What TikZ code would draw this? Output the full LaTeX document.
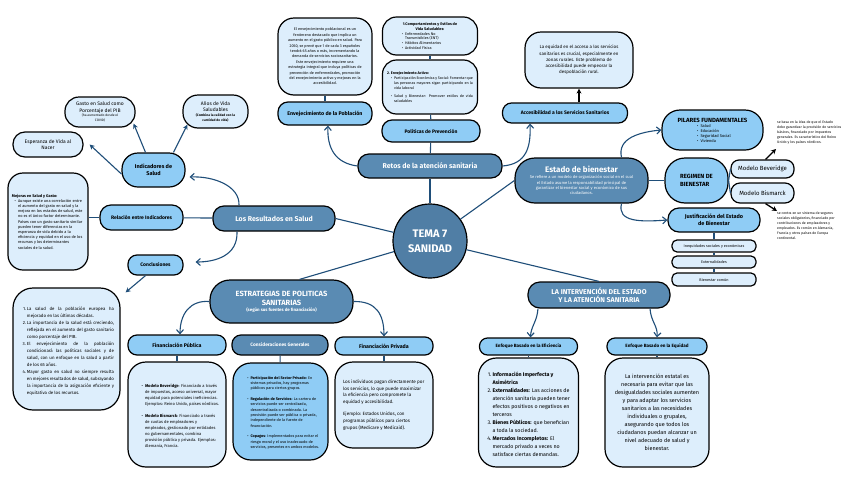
\documentclass[tikz,border=0pt]{standalone}
\usepackage{fontspec}
\setmainfont{Fira Sans}
\usepackage{enumitem}
\usetikzlibrary{arrows.meta}
\newcommand{\fsz}[2]{\fontsize{#1}{#2}\selectfont}
\hyphenpenalty=10000
\exhyphenpenalty=10000
\tolerance=9999
\emergencystretch=4pt
\setlist[itemize]{label=\textbullet,leftmargin=7pt,labelsep=2pt,itemsep=0pt,topsep=0pt,parsep=0pt,partopsep=0pt}
\setlist[enumerate]{label=\arabic*.,leftmargin=8pt,labelsep=1pt,itemsep=0pt,topsep=0pt,parsep=0pt,partopsep=0pt}
\definecolor{lightb}{RGB}{221,238,252}
\definecolor{skyb}{RGB}{143,204,245}
\definecolor{darkb}{RGB}{90,139,179}
\definecolor{temab}{RGB}{80,126,165}
\definecolor{linec}{RGB}{31,78,121}
\tikzset{
 base/.style={draw=black, line width=1.2pt, align=flush center, inner sep=1pt, text=black},
 lbox/.style={base, fill=lightb, rounded corners=10pt},
 sbox/.style={base, fill=skyb, rounded corners=8pt},
 dbox/.style={base, fill=darkb, text=white, rounded corners=10pt},
 link/.style={draw=linec, line width=1.1pt},
 sarr/.style={link, -{Stealth[length=5pt,width=5pt]}},
 carr/.style={link, -{Straight Barb[length=4pt,width=7pt]}},
 karr/.style={draw=black, line width=1.3pt, -{Stealth[length=5pt,width=5pt]}},
}
\begin{document}
\begin{tikzpicture}[x=1pt,y=-1pt]
\fill[white] (0,0) rectangle (848,477);
\useasboundingbox (0,0) rectangle (848,477);

% ---------- centre ----------
\node[circle, draw=black, line width=1.2pt, fill=temab, minimum size=74pt, inner sep=0pt, text=white, font=\bfseries\fsz{11}{15}, align=center] (tema) at (430,241) {TEMA 7\\SANIDAD};

% ---------- top: retos ----------
\node[dbox, rounded corners=11pt, minimum width=144pt, minimum height=24pt, font=\bfseries\fsz{7}{9}] (retos) at (430,166) {Retos de la atención sanitaria};
\node[sbox, rounded corners=10pt, minimum width=98pt, minimum height=22pt, font=\bfseries\fsz{5}{6}] (polit) at (431,131) {Políticas de Prevención};
\node[lbox, rounded corners=14pt, minimum width=95pt, minimum height=54pt, text width=86pt, align=justify, font=\fsz{3.7}{5}] (envact) at (430,87)
 {\textbf{2. Envejecimiento Activo:}
 \begin{itemize}[itemsep=3pt]
 \item Participación Económica y Social: Fomentar que las personas mayores sigan participando en la vida laboral
 \item Salud y Bienestar: Promover estilos de vida saludables
 \end{itemize}};
\node[lbox, rounded corners=14pt, minimum width=95pt, minimum height=38pt, text width=82pt, align=flush left, font=\fsz{3.8}{4.7}] (comp) at (430,36)
 {{\centering\bfseries 1.Comportamientos y Estilos de\\Vida Saludables:\par}
 \begin{itemize}[leftmargin=16pt]
 \item Enfermedades No\\Transmisibles (ENT)
 \item Hábitos Alimentarios
 \item Actividad Física
 \end{itemize}};
\node[lbox, rounded corners=16pt, minimum width=94pt, minimum height=77pt, text width=74pt, font=\fsz{3.8}{5.4}] (envtxt) at (325,56.5)
 {El envejecimiento poblacional es un fenómeno destacado que implica un aumento en el gasto público en salud. Para 2050, se prevé que 1 de cada 3 españoles tendrá 65 años o más, incrementando la demanda de servicios sociosanitarios. Este envejecimiento requiere una estrategia integral que incluya políticas de prevención de enfermedades, promoción del envejecimiento activo y mejoras en la accesibilidad.};
\node[sbox, rounded corners=10pt, minimum width=94pt, minimum height=23pt, font=\bfseries\fsz{5.3}{6.5}] (envpob) at (325,113.5) {Envejecimiento de la Población};
\node[sbox, rounded corners=9pt, minimum width=125pt, minimum height=20pt, font=\bfseries\fsz{5}{6}] (acc) at (565,113) {Accesibilidad a los Servicios Sanitarios};
\node[lbox, rounded corners=16pt, minimum width=108pt, minimum height=56pt, text width=90pt, font=\fsz{4.5}{6.2}] (equi) at (579,60)
 {La equidad en el acceso a los servicios sanitarios es crucial, especialmente en zonas rurales. Este problema de accesibilidad puede empeorar la despoblación rural.};

\draw[link] (tema) -- (retos);
\draw[link] (retos) -- (polit);
\draw[link] (polit) -- (envact);
\draw[link] (envact) -- (comp);
\draw[link] (envtxt) -- (envpob);
\draw[carr] (retos.west) .. controls (335,163) and (327,148) .. ([xshift=3pt]envpob.south);
\draw[carr] (retos.east) .. controls (526,164) and (531,148) .. ([xshift=-35pt]acc.south);
\draw[karr] (acc.north -| equi.south) -- (equi.south);

% ---------- right: estado de bienestar ----------
\node[dbox, rounded corners=20pt, minimum width=133pt, minimum height=45pt, text width=120pt] (estado) at (581.5,180.5)
 {{\bfseries\fsz{8}{10}Estado de bienestar\par}\vspace{1pt}{\fsz{4.1}{5.3}Se refiere a un modelo de organización social en el cual\\el Estado asume la responsabilidad principal de\\garantizar el bienestar social y económico de sus\\ciudadanos.\par}};
\node[sbox, rounded corners=18pt, minimum width=101pt, minimum height=40pt, text width=88pt, align=flush left, font=\fsz{4}{5}] (pilares) at (712.5,130)
 {{\centering\bfseries\fsz{6}{7.5}PILARES FUNDAMENTALES\par}
 \begin{itemize}[leftmargin=32pt]
 \item Salud
 \item Educación
 \item Seguridad Social
 \item Vivienda
 \end{itemize}};
\node[sbox, rounded corners=20pt, minimum width=63pt, minimum height=45pt, align=left, font=\bfseries\fsz{6}{8}] (regimen) at (696.5,180.5) {REGIMEN DE\\BIENESTAR};
\node[lbox, rounded corners=8pt, minimum width=63pt, minimum height=18pt, font=\fsz{6}{7}] (bev) at (762.5,169) {Modelo Beveridge};
\node[lbox, rounded corners=9pt, minimum width=63pt, minimum height=20pt, font=\fsz{6}{7}] (bis) at (762.5,193) {Modelo Bismarck};
\node[anchor=north west, text width=64pt, align=flush left, inner sep=0pt, font=\fsz{3.5}{4.9}] (bevtxt) at (777,121)
 {se basa en la idea de que el Estado debe garantizar la provisión de servicios básicos, financiado por impuestos generales. Es característico del Reino Unido y los países nórdicos.};
\node[anchor=north west, text width=66pt, align=flush left, inner sep=0pt, font=\fsz{3.5}{4.9}] (bistxt) at (777,212)
 {se centra en un sistema de seguros sociales obligatorios, financiado por contribuciones de empleadores y empleados. Es común en Alemania, Francia y otros países de Europa continental.};
\node[sbox, rounded corners=11pt, minimum width=92pt, minimum height=24pt, font=\bfseries\fsz{5.5}{7}] (justif) at (714,220) {Justificación del Estado\\de Bienestar};
\node[lbox, rounded corners=5pt, minimum width=84pt, minimum height=12pt, font=\fsz{3.8}{4.5}] (ineq) at (714,246) {Inequidades sociales y económicas};
\node[lbox, rounded corners=5pt, minimum width=84pt, minimum height=12pt, font=\fsz{3.8}{4.5}] (ext) at (714,262) {Externalidades};
\node[lbox, rounded corners=5pt, minimum width=84pt, minimum height=13pt, font=\fsz{3.8}{4.5}] (bien) at (714,279.5) {Bienestar común};
\coordinate (bevend) at (776,149);
\coordinate (bisend) at (777,211);

\draw[link] (tema) -- (estado.west);
\draw[link] (estado.east) -- (regimen.west);
\draw[link] (regimen.east) -- (bev.west);
\draw[link] (regimen.east) -- (bis.west);
\draw[carr] ([xshift=40pt]estado.north) .. controls (617,138) and (640,132) .. (pilares.west);
\draw[carr] ([xshift=40pt]estado.south) .. controls (617,222) and (640,222) .. (justif.west);
\draw[karr] ([xshift=3pt]bev.north) -- (bevend);
\draw[karr] ([xshift=3pt]bis.south) -- (bisend);
\draw[link] (justif) -- (ineq);
\draw[link] (ineq) -- (ext);
\draw[link] (ext) -- (bien);

% ---------- bottom right: intervención ----------
\node[dbox, rounded corners=12pt, minimum width=142pt, minimum height=26pt, font=\bfseries\fsz{7}{8.5}] (interv) at (599,295) {LA INTERVENCIÓN DEL ESTADO\\Y LA ATENCIÓN SANITARIA};
\node[sbox, rounded corners=8pt, minimum width=98pt, minimum height=17pt, font=\bfseries\fsz{4.6}{5.5}] (eficH) at (528.5,346.5) {Enfoque Basado en la Eficiencia};
\node[sbox, rounded corners=8pt, minimum width=100pt, minimum height=17pt, font=\bfseries\fsz{4.6}{5.5}] (equH) at (657,346.5) {Enfoque Basado en la Equidad};
\node[lbox, rounded corners=18pt, minimum width=100pt, minimum height=109pt, text width=88pt, align=flush left, font=\fsz{5.3}{8}] (eficT) at (528.5,412.5)
 {\begin{enumerate}
 \item \textbf{Información Imperfecta y Asimétrica}
 \item \textbf{Externalidades:} Las acciones de atención sanitaria pueden tener efectos positivos o negativos en terceros
 \item \textbf{Bienes Públicos:} que benefician a toda la sociedad.
 \item \textbf{Mercados Incompletos:} El mercado privado a veces no satisface ciertas demandas.
 \end{enumerate}};
\node[lbox, rounded corners=18pt, minimum width=104pt, minimum height=109pt, text width=88pt, font=\fsz{5.5}{8}] (equT) at (657,412.5)
 {La intervención estatal es necesaria para evitar que las desigualdades sociales aumenten y para adaptar los servicios sanitarios a las necesidades individuales o grupales, asegurando que todos los ciudadanos puedan alcanzar un nivel adecuado de salud y bienestar.};

\draw[link] (tema) -- (interv.north);
\draw[carr] ([xshift=-61pt]interv.south) .. controls (537,322) and (531,326) .. ([xshift=2pt]eficH.north);
\draw[carr] ([xshift=51pt]interv.south) .. controls (651,322) and (658,326) .. (equH.north);
\draw[link] (eficH) -- (eficT);
\draw[link] (equH) -- (equT);

% ---------- bottom left: estrategias ----------
\node[dbox, rounded corners=20pt, minimum width=143pt, minimum height=43pt, text width=130pt] (estr) at (281.5,301.5)
 {{\bfseries\fsz{7.5}{9}ESTRATEGIAS DE POLITICAS\\SANITARIAS\par}{\bfseries\fsz{4.4}{6}(según sus fuentes de financiación)\par}};
\node[sbox, rounded corners=9pt, minimum width=98pt, minimum height=20pt, font=\bfseries\fsz{5.3}{6.5}] (fpubH) at (177,345) {Financiación Pública};
\node[dbox, rounded corners=9pt, minimum width=96pt, minimum height=20pt, font=\bfseries\fsz{4.8}{6}] (consH) at (280,345) {Consideraciones Generales};
\node[sbox, rounded corners=8pt, minimum width=98pt, minimum height=18pt, font=\bfseries\fsz{5.3}{6.5}] (fprivH) at (384,346) {Financiación Privada};
\node[lbox, rounded corners=18pt, minimum width=98pt, minimum height=105pt, text width=84pt, align=flush left, font=\fsz{4.1}{6}] (fpubT) at (177,414.5)
 {\begin{itemize}[leftmargin=10pt,itemsep=6pt]
 \item \textbf{Modelo Beveridge}: Financiado a través de impuestos, acceso universal, mayor equidad para potenciales ineficiencias. Ejemplos: Reino Unido, países nórdicos.
 \item \textbf{Modelo Bismarck}: Financiado a través de cuotas de empleadores y empleados, gestionado por entidades no gubernamentales, combina provisión pública y privada. Ejemplos: Alemania, Francia.
 \end{itemize}};
\node[sbox, rounded corners=18pt, minimum width=95pt, minimum height=97pt, text width=80pt, align=flush left, font=\fsz{3.8}{5.4}] (consT) at (280.5,411.5)
 {\begin{itemize}[leftmargin=10pt,itemsep=5pt]
 \item \textbf{Participación del Sector Privado:} En sistemas privados, hay programas públicos para ciertos grupos.
 \item \textbf{Regulación de Servicios:} La cartera de servicios puede ser centralizada, descentralizada o combinada. La provisión puede ser pública o privada, independiente de la fuente de financiación.
 \item \textbf{Copagos}: Implementados para evitar el riesgo moral y el uso inadecuado de servicios, presentes en ambos modelos.
 \end{itemize}};
\node[lbox, rounded corners=18pt, minimum width=98pt, minimum height=86pt, text width=82pt, align=flush left, font=\fsz{4.6}{6.6}] (fprivT) at (384,405)
 {Los individuos pagan directamente por los servicios, lo que puede maximizar la eficiencia pero compromete la equidad y accesibilidad.\par\vspace{6pt}
 Ejemplo: Estados Unidos, con programas públicos para ciertos grupos (Medicare y Medicaid).};

\draw[link] (tema) -- ([xshift=18pt]estr.north);
\draw[carr] (estr.west) .. controls (190,300) and (180,314) .. ([xshift=3pt]fpubH.north);
\draw[carr] (estr.east) .. controls (376,301) and (384,314) .. (fprivH.north);
\draw[link] (fpubH) -- (fpubT);
\draw[link] (consH) -- (consT);
\draw[link] (fprivH) -- (fprivT);

% ---------- left: resultados ----------
\node[dbox, rounded corners=11pt, minimum width=122pt, minimum height=25pt, font=\bfseries\fsz{7}{9}] (resul) at (274,218.5) {Los Resultados en Salud};
\node[sbox, rounded corners=11pt, minimum width=83pt, minimum height=25pt, font=\bfseries\fsz{5}{6}] (rel) at (141.5,217.5) {Relación entre Indicadores};
\node[sbox, rounded corners=9pt, minimum width=55pt, minimum height=20pt, font=\bfseries\fsz{5}{6}] (concl) at (155.5,265) {Conclusiones};
\node[sbox, rounded corners=16pt, minimum width=63pt, minimum height=34pt, font=\bfseries\fsz{5.5}{7.5}] (indic) at (153.5,170) {Indicadores de\\Salud};
\node[lbox, rounded corners=15pt, minimum width=80pt, minimum height=97pt, text width=72pt, align=flush left, font=\fsz{3.9}{5.2}] (mejoras) at (48,221.5)
 {\textbf{Mejoras en Salud y Gasto:}
 \begin{itemize}[leftmargin=6pt]
 \item Aunque existe una correlación entre el aumento del gasto en salud y la mejora en los estados de salud, este no es el único factor determinante. Países con un gasto sanitario similar pueden tener diferencias en la esperanza de vida debido a la eficiencia y equidad en el uso de los recursos y los determinantes sociales de la salud.
 \end{itemize}};
\node[lbox, rounded corners=14pt, minimum width=70pt, minimum height=30pt, text width=66pt, font=\fsz{5}{6.3}] (gasto) at (100,112)
 {Gasto en Salud como\\Porcentaje del PIB\par{\fsz{3.3}{4.6}(ha aumentado desde el\\COVID)\par}};
\node[lbox, rounded corners=15pt, minimum width=65pt, minimum height=33pt, text width=62pt, font=\fsz{5}{6.5}] (anos) at (215.5,111.5)
 {Años de Vida\\Saludables\par{\bfseries\fsz{3.3}{4.6}(Combina la calidad con la\\cantidad de vida)\par}};
\node[lbox, rounded corners=12pt, minimum width=70pt, minimum height=25pt, font=\fsz{5}{6.5}] (esper) at (48,144.5) {Esperanza de Vida al\\Nacer};
\node[lbox, rounded corners=20pt, minimum width=107pt, minimum height=122pt, text width=95pt, align=justify, font=\fsz{4.4}{7}] (conclT) at (66.5,349)
 {\begin{enumerate}
 \item La salud de la población europea ha mejorado en las últimas décadas.
 \item La importancia de la salud está creciendo, reflejada en el aumento del gasto sanitario como porcentaje del PIB.
 \item El envejecimiento de la población condicionará las políticas sociales y de salud, con un enfoque en la salud a partir de los 65 años.
 \item Mayor gasto en salud no siempre resulta en mejores resultados de salud, subrayando la importancia de la asignación eficiente y equitativa de los recursos.
 \end{enumerate}};

\draw[link] (tema) -- (resul.east);
\draw[link] (resul) -- (rel);
\draw[link] (rel.west) -- (rel.west -| mejoras.east);
\draw[carr] ([xshift=-35pt]resul.north) .. controls (240,186) and (214,176) .. ([xshift=4pt,yshift=-7pt]indic.east);
\draw[carr] ([xshift=-37pt]resul.south) .. controls (238,256) and (215,262) .. ([xshift=12pt,yshift=3pt]concl.east);
\draw[sarr] ([xshift=-8pt]indic.north) -- ([xshift=-2pt,yshift=4pt]gasto.south east);
\draw[sarr] ([xshift=20pt]indic.north) -- ([xshift=5pt,yshift=4pt]anos.south west);
\draw[sarr] ([yshift=-4pt]indic.west) -- ([xshift=6pt]esper.east);
\draw[sarr] ([xshift=-10pt]concl.south) -- ([xshift=5pt,yshift=-5pt]conclT.north east);
\end{tikzpicture}
\end{document}
